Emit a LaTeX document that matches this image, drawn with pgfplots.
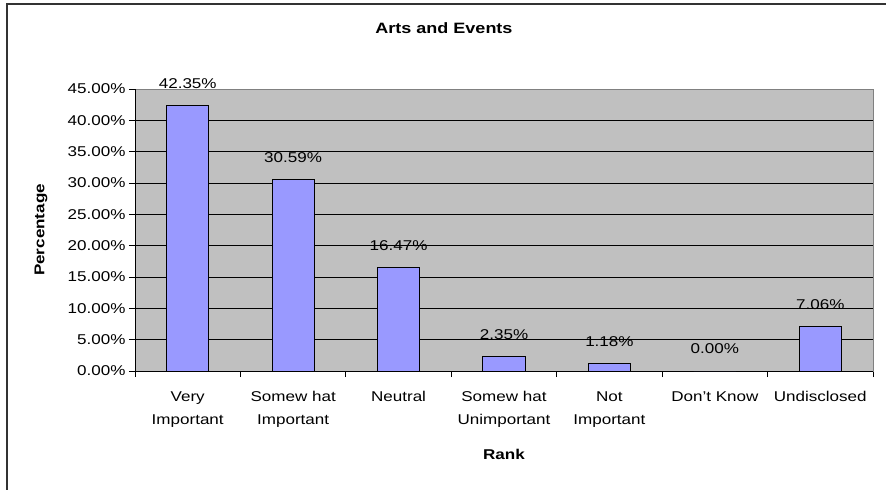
\documentclass[border=0pt]{standalone}
\usepackage{fontspec}
\setmainfont{Liberation Sans}[FakeStretch=1.2]
\usepackage{pgfplots}
\pgfplotsset{compat=1.18}
\definecolor{plotbg}{HTML}{C0C0C0}
\definecolor{barfill}{HTML}{9999FF}
\definecolor{framegray}{HTML}{333333}
\newcommand{\lbl}{\fontsize{14.2bp}{23bp}\selectfont}
\begin{document}
\begin{tikzpicture}
\path[use as bounding box] (0,0) rectangle (886bp,-490bp);
\draw[framegray, line width=2bp] (7bp,-490bp) -- (7bp,-4bp) -- (886bp,-4bp);
\node[font=\fontsize{15bp}{17bp}\selectfont\bfseries] at (444bp,-28bp) {Arts and Events};
\begin{axis}[
  at={(135bp,-371bp)}, anchor=south west,
  scale only axis,
  width=738bp, height=282bp,
  /pgf/number format/assume math mode=true,
  ymin=0, ymax=45, ytick={0,5,...,45},
  yticklabel={\pgfmathprintnumber[fixed,fixed zerofill,precision=2]{\tick}\%},
  xmin=-0.5, xmax=6.5,
  xtick={0,...,6},
  xticklabels={{Very\\Important},{Somew hat\\Important},Neutral,{Somew hat\\Unimportant},{Not\\Important},Don't Know,Undisclosed},
  x tick label style={align=center, font=\lbl, yshift=-11bp},
  y tick label style={font=\lbl},
  major x tick style={draw=none},
  minor xtick={-0.5,0.5,...,6.5},
  xtick pos=bottom, ytick pos=left,
  tick align=outside,
  major tick length=6bp, minor tick length=6bp,
  tick style={black, line width=0.8bp},
  ymajorgrids, grid style={black, line width=0.8bp},
  axis background/.style={fill=plotbg},
  axis line style={draw=gray, line width=1bp},
  xlabel={\textbf{Rank}}, ylabel={\textbf{Percentage}},
  xlabel style={font=\lbl, at={(axis description cs:0.5,0)}, anchor=center, yshift=-83bp},
  ylabel style={font=\lbl, at={(axis description cs:-0.1274,0.5)}, anchor=center},
  clip=false,
]
\draw[black, line width=1bp] (axis cs:-0.5,45) -- (axis cs:-0.5,0) -- (axis cs:6.5,0);
\addplot[ybar, bar width=0.4, fill=barfill, draw=black, line width=1bp,
  nodes near coords={\pgfmathprintnumber[fixed,fixed zerofill,precision=2]{\pgfplotspointmeta}\%},
  nodes near coords style={font=\lbl, anchor=center, yshift=22bp, black}]
  coordinates {(0,42.35) (1,30.59) (2,16.47) (3,2.35) (4,1.18) (5,0.00) (6,7.06)};
\end{axis}
\end{tikzpicture}
\end{document}
